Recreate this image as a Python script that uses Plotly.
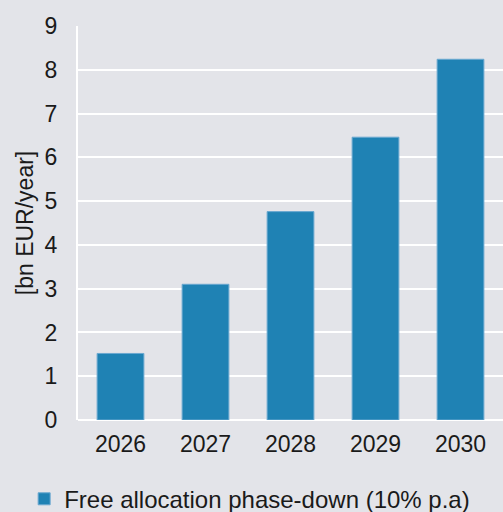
import plotly.graph_objects as go

years = ["2026", "2027", "2028", "2029", "2030"]
phase_down = [1.52, 3.1, 4.76, 6.46, 8.24]
series_name = "Free allocation phase-down (10% p.a)"
y_title = "[bn EUR/year]"

bg = "#e3e4e9"
bar_color = "#1f82b4"
text_color = "#1a1a1a"
font_family = "Liberation Sans, Arial, sans-serif"

fig = go.Figure()
fig.add_trace(go.Bar(
    x=years,
    y=phase_down,
    name=series_name,
    marker=dict(color=bar_color, line=dict(color="#6aa8d0", width=1)),
    showlegend=True,
))

fig.update_layout(
    width=503,
    height=512,
    paper_bgcolor=bg,
    plot_bgcolor=bg,
    margin=dict(l=78, r=0, t=26, b=92, autoexpand=False),
    bargap=0.45,
    font=dict(family=font_family, size=23, color=text_color),
    showlegend=True,
    legend=dict(
        orientation="h",
        xref="container",
        x=0.048,
        xanchor="left",
        yref="container",
        y=0.025,
        yanchor="middle",
        bgcolor="rgba(0,0,0,0)",
        font=dict(size=24, color=text_color),
        itemwidth=30,
    ),
    xaxis=dict(
        showgrid=False,
        showline=False,
        zeroline=False,
        ticks="",
        tickfont=dict(size=23, color=text_color),
        ticklabelstandoff=8,
    ),
    yaxis=dict(
        range=[0, 9],
        dtick=1,
        showgrid=True,
        gridcolor="white",
        gridwidth=2,
        zeroline=True,
        zerolinecolor="white",
        zerolinewidth=2,
        showline=True,
        linecolor="white",
        linewidth=2,
        ticks="",
        tickfont=dict(size=23, color=text_color),
        ticklabelstandoff=14,
        title=dict(text=y_title, font=dict(size=23, color=text_color), standoff=5),
    ),
)

fig.write_html("out.html")
